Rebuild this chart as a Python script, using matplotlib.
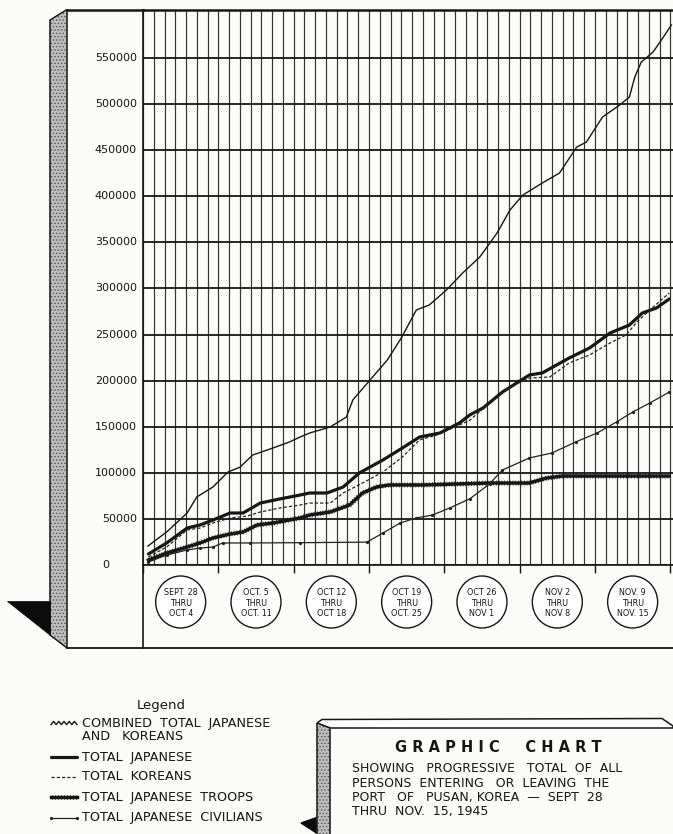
import numpy as np
import matplotlib.pyplot as plt
from matplotlib.patches import Polygon, Ellipse
import matplotlib.patheffects as pe

# readings: day counted from Sept 28, cumulative persons
comb_days = [0.46, 2.2, 4.1, 5.0, 6.5, 7.9, 9.0, 10.2, 12.1, 13.6, 14.6, 15.5, 17.4, 18.9, 19.5,
             21.1, 22.7, 24.0, 25.4, 26.6, 28.2, 29.7, 31.3, 32.9, 34.1, 35.3, 37.1, 38.7, 40.3,
             41.2, 42.7, 44.3, 45.2, 45.7, 46.3, 47.4, 48.3, 49.1]
comb_vals = [20600, 35800, 56400, 73800, 84600, 100900, 106000, 119300, 127000, 133400, 138800,
             143200, 149700, 160500, 179000, 200700, 222300, 246200, 276600, 282000, 298300,
             316700, 334100, 360100, 385000, 401300, 414300, 425100, 453300, 458700, 485900,
             498900, 507600, 529300, 545500, 556400, 571600, 585700]

jap_days = [0.5, 2.2, 4.1, 5.3, 6.5, 8.1, 9.3, 10.9, 12.7, 14.6, 15.5, 17.1, 18.6, 20.1, 22.3,
            24.1, 25.7, 27.6, 29.4, 30.4, 31.6, 33.4, 35.9, 37.1, 39.6, 41.5, 43.4, 45.2, 46.4,
            47.7, 48.9]
jap_vals = [11900, 23900, 40100, 43400, 48800, 56400, 56400, 67200, 71600, 75900, 78100, 78100,
            84600, 99800, 113900, 126900, 138800, 143200, 154000, 163000, 170300, 187600, 206100,
            208300, 224500, 235400, 251600, 260300, 273300, 278700, 288500]

kor_days = [0.5, 2.2, 4.1, 5.3, 6.5, 8.1, 9.7, 10.9, 12.7, 14.6, 15.5, 17.4, 18.6, 20.4, 22.3,
            24.1, 25.7, 27.3, 29.4, 30.4, 32.2, 34.1, 35.9, 37.8, 39.6, 41.5, 43.4, 44.9, 45.9,
            47.1, 48.9]
kor_vals = [8700, 19500, 38000, 40100, 45600, 51000, 53100, 57500, 61800, 65100, 67200, 67200,
            78100, 88900, 100900, 117100, 135600, 141000, 151800, 157300, 175700, 193100, 202800,
            203900, 219100, 227800, 240800, 249500, 263600, 276600, 295000]

troop_days = [0.5, 2.2, 4.1, 5.3, 6.5, 8.1, 9.3, 10.6, 12.1, 14.6, 15.5, 17.4, 19.2, 20.4, 21.7,
              22.9, 26.0, 29.2, 32.2, 35.9, 37.5, 39.0, 48.9]
troop_vals = [5400, 13000, 19500, 23900, 29300, 33600, 35800, 43400, 45600, 51000, 54200, 57500,
              65100, 78100, 84600, 86800, 86800, 87900, 88900, 88900, 94300, 96500, 96500]

civ_days = [0.5, 2.2, 4.1, 5.3, 6.5, 7.4, 9.9, 14.6, 20.8, 22.3, 23.9, 25.4, 26.9, 28.5, 30.4,
            32.2, 33.4, 35.9, 38.0, 40.2, 42.2, 44.0, 45.5, 47.1, 48.9]
civ_vals = [3300, 10800, 16300, 18400, 19500, 23900, 23900, 24200, 24800, 34700, 45600, 51000,
            54200, 61800, 72000, 88000, 103000, 116100, 121500, 133400, 143200, 155100, 165900,
            175700, 187600]

week_labels = ['SEPT. 28\nTHRU\nOCT 4', 'OCT. 5\nTHRU\nOCT. 11', 'OCT 12\nTHRU\nOCT 18',
               'OCT 19\nTHRU\nOCT. 25', 'OCT 26\nTHRU\nNOV 1', 'NOV 2\nTHRU\nNOV 8',
               'NOV. 9\nTHRU\nNOV. 15']
y_ticks = list(range(0, 550001, 50000))

legend_labels = ['COMBINED  TOTAL  JAPANESE\nAND   KOREANS', 'TOTAL  JAPANESE', 'TOTAL  KOREANS',
                 'TOTAL  JAPANESE  TROOPS', 'TOTAL  JAPANESE  CIVILIANS']

W, H = 673, 834
paper = '#fbfbf9'
ink = '#161616'
fig = plt.figure(figsize=(W / 100, H / 100), dpi=100)
fig.patch.set_facecolor(paper)

# plot area in pixels
X0, X1, Y0, Y1 = 143, 673, 565, 9.5
ax = fig.add_axes([X0 / W, (H - Y0) / H, (X1 - X0) / W, (Y0 - Y1) / H])
ax.set_facecolor('none')
ax.set_xlim(0, 49.25)
ax.set_ylim(0, 602500)

ax.set_xticks(range(0, 50, 7))
ax.set_xticks(range(0, 50), minor=True)
ax.set_xticklabels([])
ax.tick_params(axis='x', which='major', length=6, width=1, direction='out', color=ink)
ax.tick_params(axis='x', which='minor', length=0)
ax.grid(axis='x', which='both', color='#333333', lw=0.85)
ax.set_yticks(y_ticks)
ax.set_yticklabels([])
ax.tick_params(axis='y', length=0)
ax.grid(axis='y', color=ink, lw=1.3)
ax.set_axisbelow(True)
for s in ['left', 'bottom']:
    ax.spines[s].set_linewidth(1.2)
    ax.spines[s].set_color(ink)
ax.spines['top'].set_linewidth(1.8)
ax.spines['top'].set_color(ink)
ax.spines['right'].set_visible(False)

for v in y_ticks[1:]:
    ax.text(-6 / 530, v, str(v), transform=ax.get_yaxis_transform(), ha='right', va='center',
            fontsize=8, color=ink)
ax.text(-37 / 530, 0, '0', transform=ax.get_yaxis_transform(), ha='center', va='center',
        fontsize=8, color=ink)

styles = [
    dict(color=ink, lw=1.0),
    dict(color=ink, lw=2.3, solid_capstyle='round'),
    dict(color='#262626', lw=0.9, dashes=(2.6, 1.6)),
    dict(color=ink, lw=2.5, path_effects=[pe.Stroke(),
                                          pe.TickedStroke(angle=90, spacing=2.0, length=0.8, linewidth=0.5),
                                          pe.TickedStroke(angle=-90, spacing=2.0, length=0.8, linewidth=0.5)]),
    dict(color='#222222', lw=0.9, marker='o', ms=1.3),
]
series = [(comb_days, comb_vals), (jap_days, jap_vals), (kor_days, kor_vals),
          (troop_days, troop_vals), (civ_days, civ_vals)]
for (d, v), st in zip(series, styles):
    ax.plot(d, v, zorder=4, clip_on=False, **st)

# overlay in pixel coordinates for the drawn board, week circles, legend and title box
ov = fig.add_axes([0, 0, 1, 1], zorder=10)
ov.set_xlim(0, W)
ov.set_ylim(H, 0)
ov.axis('off')
ov.patch.set_alpha(0)

plt.rcParams['hatch.linewidth'] = 0.6
side = [(50, 20), (67, 9.5), (67, 648), (50, 635)]
ov.add_patch(Polygon(side, closed=True, fc='#bdbdbd', ec='#555555', hatch='.....', lw=0.8))
ov.add_patch(Polygon(side, closed=True, fill=False, ec=ink, lw=0.9))
ov.add_patch(Polygon([(7, 601), (50, 601), (50, 635)], closed=True, fc='#0c0c0c', ec='#0c0c0c', lw=0.5))
ov.plot([67, X0], [9.5, 9.5], color=ink, lw=1.8)
ov.plot([67, W], [648, 648], color=ink, lw=1.3)
ov.plot([X0, X0], [Y0, 648], color=ink, lw=1.2)

for k, lab in enumerate(week_labels):
    cx = ax.transData.transform((7 * k + 3.5, 0))[0]
    ov.add_patch(Ellipse((cx, 602), 50, 52, fc='white', ec=ink, lw=1.0))
    ov.text(cx, 603, lab, ha='center', va='center', fontsize=5.8, linespacing=1.15, color=ink)

# legend
ov.text(161, 705, 'Legend', ha='center', va='center', fontsize=9.5, color=ink)
rows = [723, 757, 777, 797, 818]
wave_x = np.linspace(51, 77, 11)
wave_y = rows[0] + np.array([1, -1] * 6)[:11] * 1.6
ov.plot(wave_x, wave_y, color=ink, lw=1.0)
for i, (ry, lab) in enumerate(zip(rows, legend_labels)):
    if i > 0:
        ov.plot([51, 77], [ry, ry], **styles[i])
    ov.text(82, ry - 6.5, lab, ha='left', va='top', fontsize=9.2, color=ink, linespacing=1.1)
ov.add_patch(Polygon([(301, 823), (318, 817), (318, 834)], closed=True, fc='#0c0c0c', ec='#0c0c0c'))

# title box
ov.add_patch(Polygon([(317, 723), (322, 719.5), (662, 718.5), (673, 726), (673, 728), (330, 728)],
                     closed=True, fc='white', ec=ink, lw=1.1))
box_side = [(317, 723), (330, 728), (330, 836), (317, 836)]
ov.add_patch(Polygon(box_side, closed=True, fc='#bdbdbd', ec='#555555', hatch='.....', lw=0.8))
ov.add_patch(Polygon(box_side, closed=True, fill=False, ec=ink, lw=0.9))
ov.text(498, 748, 'G R A P H I C     C H A R T', ha='center', va='center', fontsize=10.5,
        fontweight='bold', color=ink)
body = ['SHOWING   PROGRESSIVE   TOTAL  OF  ALL', 'PERSONS  ENTERING   OR  LEAVING  THE',
        'PORT   OF   PUSAN, KOREA  \u2014  SEPT  28', 'THRU  NOV.  15, 1945']
for i, line in enumerate(body):
    ov.text(352, 769 + 14.3 * i, line, ha='left', va='center', fontsize=9.0, color=ink)

fig.savefig('out.png', dpi=100, facecolor=fig.get_facecolor())
